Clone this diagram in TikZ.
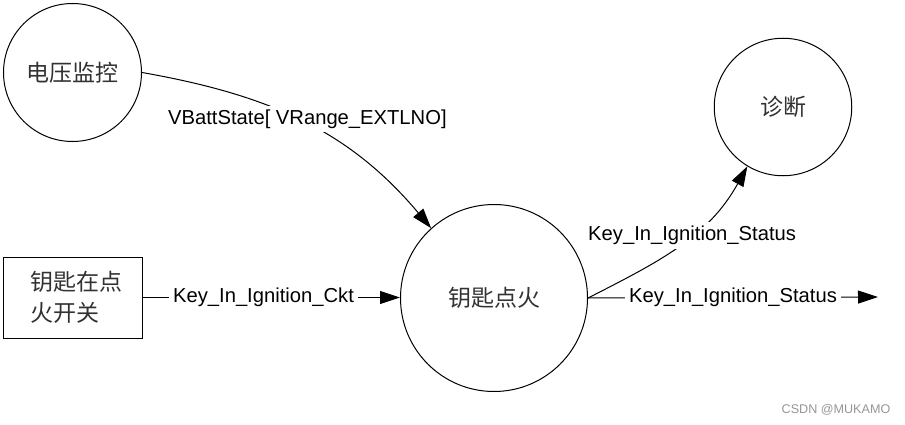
\documentclass[tikz,border=0pt]{standalone}
\usepackage{fontspec}
\setmainfont{Liberation Sans}
\newfontfamily\cjk{Noto Sans CJK SC}
\usetikzlibrary{arrows.meta}
\definecolor{DfdText}{RGB}{50,50,50}
\definecolor{DfdMark}{RGB}{150,150,150}

\begin{document}
\begin{tikzpicture}[x=0.5pt,y=0.5pt,line width=0.5pt,
  proc/.style={circle,draw,inner sep=0pt,font=\cjk\fontsize{11.5}{14}\selectfont,text=DfdText},
  term/.style={draw,inner sep=0pt,minimum width=69.5pt,minimum height=40.5pt,align=left,
               font=\cjk\fontsize{11.5}{15.5}\selectfont,text=DfdText},
  flow/.style={-{Triangle[length=10pt,width=6.5pt]}},
  lbl/.style={fill=white,inner sep=2pt,font=\fontsize{10.1}{12}\selectfont}
]
\useasboundingbox (0,0) rectangle (905,424);
\node[proc,minimum size=69pt] (volt) at (72.5,351.5) {电压监控};
\node[proc,minimum size=68.75pt] (diag) at (783,317) {诊断};
\node[proc,minimum size=93.5pt] (key) at (494,126) {钥匙点火};
\node[term] (sw) at (72.5,126.5) {\hspace*{4pt}钥匙在点\\\hspace*{4pt}火开关};
\coordinate (out) at (878,127);
\draw[flow] (volt.east) to[out=-10,in=130] node[lbl,pos=0.48,xshift=5pt] {VBattState[ VRange\_EXTLNO]} (key.132);
\draw[flow] (sw.east) -- node[lbl,pos=0.47] {Key\_In\_Ignition\_Ckt} (sw.east -| key.west);
\draw[flow] (key.east) to[out=27,in=241] node[lbl,pos=0.58] {Key\_In\_Ignition\_Status} (diag.239.5);
\draw[flow] (key.east) -- node[lbl,pos=0.5] {Key\_In\_Ignition\_Status} (out);
\node[font=\fontsize{6.3}{8}\selectfont,text=DfdMark] (mark) at (836,14) {CSDN @MUKAMO};
\end{tikzpicture}
\end{document}
